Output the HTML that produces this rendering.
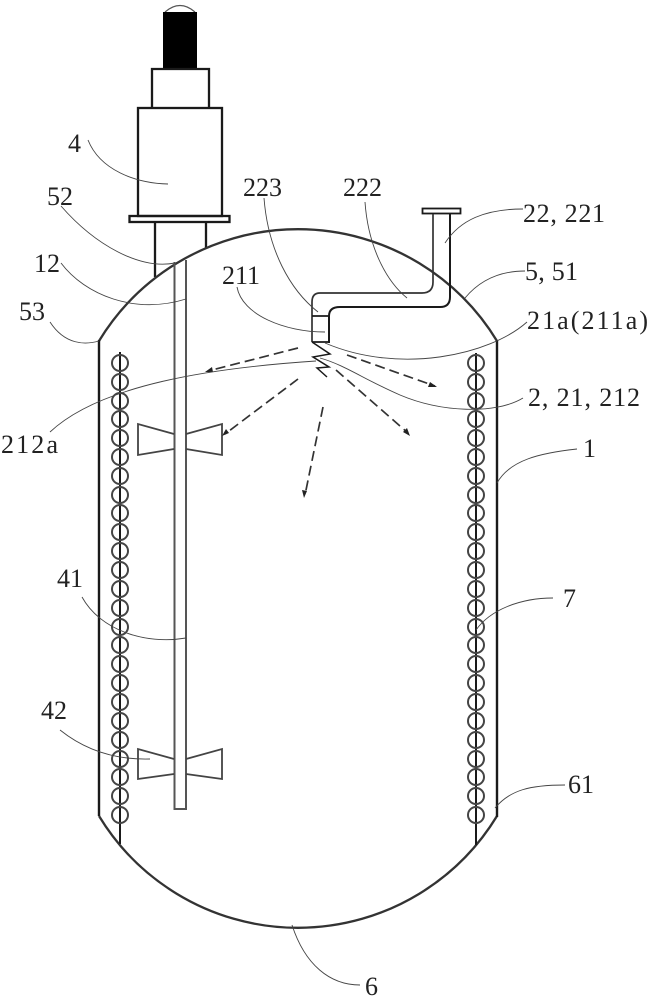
<!DOCTYPE html>
<html><head><meta charset="utf-8"><style>
html,body{margin:0;padding:0;background:#fff;width:651px;height:1000px;overflow:hidden}
svg{display:block}
text{font-family:"Liberation Serif",serif;font-size:26px;fill:#222}
</style></head><body>
<svg width="651" height="1000" viewBox="0 0 651 1000" xmlns="http://www.w3.org/2000/svg">
<g fill="none" stroke="#1a1a1a" stroke-width="2.300">
<!-- motor -->
<path d="M165 12 Q180 -1 195 12" stroke-width="1.200" stroke="#555"/>
<rect x="163" y="12" width="34" height="57" fill="#000" stroke="none"/>
<path d="M152 108V69H209V108"/>
<rect x="138" y="108" width="84" height="108"/>
<rect x="129.500" y="216" width="100" height="6"/>
<path d="M155 222V277M206 222V248"/>
<!-- vessel -->
<path d="M99 341A233 233 0 0 1 497 341" stroke="#333"/>
<path d="M99 816A233 233 0 0 0 497 816" stroke="#333"/>
<path d="M99 340V816M497 340V817" stroke-width="2.400"/>
<!-- shaft -->
<path d="M174.500 262V809H186V260" stroke="#555" stroke-width="2"/>
<!-- blades -->
<g stroke="#444" stroke-width="1.800">
<path d="M174 434L138 424V455L174 449M186 434L222 424V455L186 449"/>
<path d="M174 759L138 749V779L174 774M186 759L222 749V779L186 774"/>
</g>
<!-- coils -->
<path d="M120 352V844M476 353V845" stroke-width="2"/>
<g stroke="#444" stroke-width="2">
<circle cx="120" cy="363" r="8"/><circle cx="120" cy="382" r="8"/><circle cx="120" cy="401" r="8"/><circle cx="120" cy="419" r="8"/><circle cx="120" cy="438" r="8"/><circle cx="120" cy="457" r="8"/><circle cx="120" cy="476" r="8"/><circle cx="120" cy="495" r="8"/><circle cx="120" cy="513" r="8"/><circle cx="120" cy="532" r="8"/><circle cx="120" cy="551" r="8"/><circle cx="120" cy="570" r="8"/><circle cx="120" cy="589" r="8"/><circle cx="120" cy="608" r="8"/><circle cx="120" cy="627" r="8"/><circle cx="120" cy="645" r="8"/><circle cx="120" cy="664" r="8"/><circle cx="120" cy="683" r="8"/><circle cx="120" cy="702" r="8"/><circle cx="120" cy="721" r="8"/><circle cx="120" cy="740" r="8"/><circle cx="120" cy="759" r="8"/><circle cx="120" cy="777" r="8"/><circle cx="120" cy="796" r="8"/><circle cx="120" cy="815" r="8"/>
<circle cx="476" cy="363" r="8"/><circle cx="476" cy="382" r="8"/><circle cx="476" cy="401" r="8"/><circle cx="476" cy="419" r="8"/><circle cx="476" cy="438" r="8"/><circle cx="476" cy="457" r="8"/><circle cx="476" cy="476" r="8"/><circle cx="476" cy="495" r="8"/><circle cx="476" cy="513" r="8"/><circle cx="476" cy="532" r="8"/><circle cx="476" cy="551" r="8"/><circle cx="476" cy="570" r="8"/><circle cx="476" cy="589" r="8"/><circle cx="476" cy="608" r="8"/><circle cx="476" cy="627" r="8"/><circle cx="476" cy="645" r="8"/><circle cx="476" cy="664" r="8"/><circle cx="476" cy="683" r="8"/><circle cx="476" cy="702" r="8"/><circle cx="476" cy="721" r="8"/><circle cx="476" cy="740" r="8"/><circle cx="476" cy="759" r="8"/><circle cx="476" cy="777" r="8"/><circle cx="476" cy="796" r="8"/><circle cx="476" cy="815" r="8"/>
</g>
<!-- nozzle pipe -->
<rect x="422.500" y="208.500" width="38" height="5" stroke-width="1.800"/>
<path d="M433 214V282Q433 293 422 293H320Q312 293 312 302V342" stroke-width="1.700" stroke="#333"/>
<path d="M450 214V297Q450 307 440 307H340Q329 307 329 316V343" stroke-width="2"/>
<path d="M312 316H329M312 342H329" stroke-width="1.700"/>
<path d="M312 342L330 354L313 357L329 367L317 368L327 377" stroke-width="1.500"/>
</g>
<!-- spray arrows -->
<g fill="none" stroke="#333" stroke-width="1.700" stroke-dasharray="10 5">
<path d="M347 355L435 386"/>
<path d="M336 370L408 433"/>
<path d="M323 407L305 495"/>
<path d="M298 379L225 434"/>
<path d="M298 348L208 371"/>
</g>
<g fill="#222">
<path d="M437 387L428 387L430 382Z"/>
<path d="M410 436L403 432L407 428Z"/>
<path d="M304 498L302 490L307 491Z"/>
<path d="M222 436L226 429L229 433Z"/>
<path d="M205 372L212 367L213 372Z"/>
</g>
<!-- leaders -->
<g fill="none" stroke="#444" stroke-width="0.900">
<path d="M88 140C100 170 135 183 168 184"/>
<path d="M61 206C95 245 140 270 175 263"/>
<path d="M61 263C85 295 135 315 186 299"/>
<path d="M50 322C65 345 85 345 99 341"/>
<path d="M264 198C268 250 290 290 318 312"/>
<path d="M365 202C368 245 385 280 407 298"/>
<path d="M237 287C242 315 285 332 325 332"/>
<path d="M445 243C460 220 485 209 523 209"/>
<path d="M465 298C480 280 500 271 525 271"/>
<path d="M527 322C490 355 400 375 325 343"/>
<path d="M523 398C495 415 440 412 400 395C365 380 345 365 320 358"/>
<path d="M497 483C510 460 540 453 577 449"/>
<path d="M316 361C210 368 100 385 50 432"/>
<path d="M82 597C100 630 145 645 186 638"/>
<path d="M60 730C85 750 115 760 150 759"/>
<path d="M476 630C490 610 520 598 553 598"/>
<path d="M495 808C510 790 530 785 565 785"/>
<path d="M292 925C305 965 330 985 360 985"/>
</g>
<!-- labels -->
<text x="68" y="152">4</text>
<text x="47" y="205">52</text>
<text x="34" y="272">12</text>
<text x="19" y="320">53</text>
<text x="243" y="196">223</text>
<text x="343" y="196">222</text>
<text x="222" y="284">211</text>
<text x="523" y="222" textLength="82" lengthAdjust="spacing">22, 221</text>
<text x="525" y="280" textLength="53" lengthAdjust="spacing">5, 51</text>
<text x="527" y="329" textLength="121" lengthAdjust="spacing">21a(211a)</text>
<text x="528" y="406" textLength="112" lengthAdjust="spacing">2, 21, 212</text>
<text x="583" y="457">1</text>
<text x="1" y="453" textLength="57" lengthAdjust="spacing">212a</text>
<text x="57" y="587">41</text>
<text x="41" y="719">42</text>
<text x="563" y="607">7</text>
<text x="568" y="793">61</text>
<text x="365" y="995">6</text>
</svg>
</body></html>
